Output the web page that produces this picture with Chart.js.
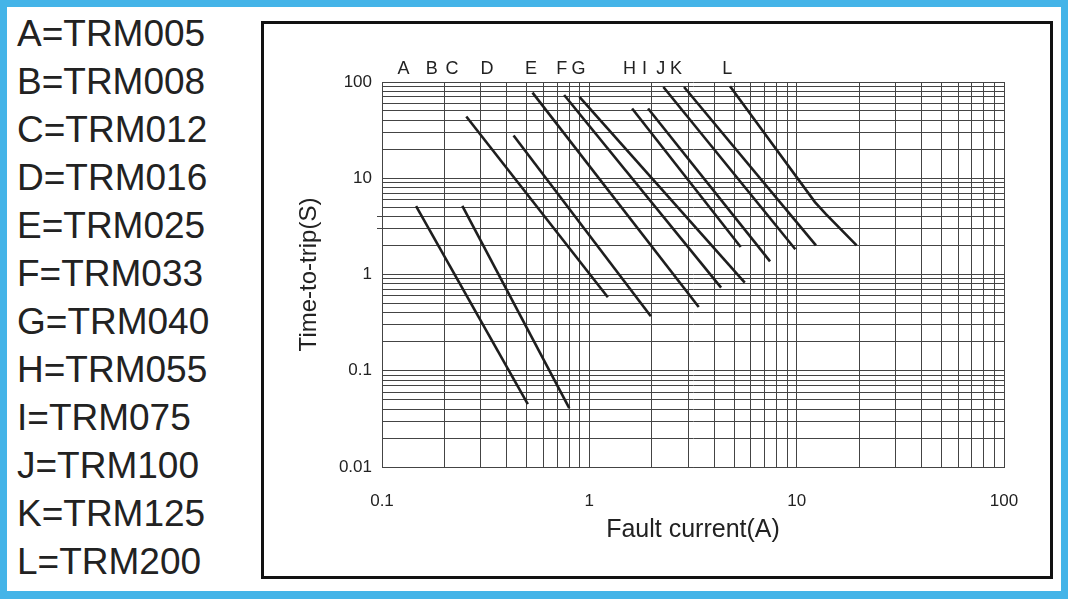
<!DOCTYPE html>
<html>
<head>
<meta charset="utf-8">
<script src="https://cdn.jsdelivr.net/npm/chart.js@4"></script>
<style>
  html, body { margin: 0; padding: 0; }
  body { width: 1068px; height: 599px; background: #44b4e8; position: relative; overflow: hidden; font-family: "Liberation Sans", Arial, sans-serif; }
  .pagina { position: absolute; left: 7px; top: 7px; width: 1054px; height: 584px; background: #fff; }
  .legenda { position: absolute; left: 17px; top: 0; }
  .legenda div { position: absolute; left: 0; font-size: 37px; line-height: 37px; color: #222; white-space: nowrap; }
  .caixa { position: absolute; left: 261px; top: 21px; width: 792px; height: 558px; border: 3px solid #111; box-sizing: border-box; background: #fff; }
  .grafico { position: absolute; left: 0; top: 0; width: 786px; height: 552px; }
</style>
</head>
<body>
<div class="pagina"></div>
<div class="legenda" id="legenda"></div>
<div class="caixa">
  <div class="grafico"><canvas id="graficoTrip"></canvas></div>
</div>

<script>
// ---------------- DADOS ----------------
const nomesCurvas = ['A', 'B', 'C', 'D', 'E', 'F', 'G', 'H', 'I', 'J', 'K', 'L'];
const textoLegenda = ['A=TRM005', 'B=TRM008', 'C=TRM012', 'D=TRM016', 'E=TRM025', 'F=TRM033',
                      'G=TRM040', 'H=TRM055', 'I=TRM075', 'J=TRM100', 'K=TRM125', 'L=TRM200'];

// posicao (em A) das letras acima do grafico
const posLetras = [0.127, 0.174, 0.2175, 0.321, 0.5225, 0.737, 0.886, 1.561, 1.843, 2.213, 2.62, 4.63];

// curvas corrente (A) x tempo (s)
const curvaA = [[0.146, 5.13], [0.505, 0.045]];
const curvaB = [[0.244, 5.17], [0.80, 0.041]];
const curvaC = [[0.255, 43.8], [1.228, 0.58]];
const curvaD = [[0.431, 27.8], [1.98, 0.368]];
const curvaE = [[0.532, 77.6], [3.37, 0.46]];
const curvaF = [[0.756, 73.3], [4.32, 0.73]];
const curvaG = [[0.896, 69.9], [5.62, 0.822]];
const curvaH = [[1.608, 53.0], [5.37, 1.93]];
const curvaI = [[1.92, 53.0], [7.44, 1.37]];
const curvaJ = [[2.276, 88.7], [9.85, 1.83]];
const curvaK = [[2.863, 88.7], [12.39, 2.01]];
const curvaL = [[4.77, 90.2], [12.25, 5.65], [13.84, 4.24], [19.46, 2.01]];
const curvas = [curvaA, curvaB, curvaC, curvaD, curvaE, curvaF, curvaG, curvaH, curvaI, curvaJ, curvaK, curvaL];

// rotulos dos eixos
const rotulosX = ['0.1', '1', '10', '100'];
const rotulosY = ['0.01', '0.1', '1', '10', '100'];
const decadasX = [0.1, 1, 10];
const decadasY = [0.01, 0.1, 1, 10];

// ---------------- LEGENDA ----------------
const legenda = document.getElementById('legenda');
textoLegenda.forEach((t, i) => {
  const d = document.createElement('div');
  d.textContent = t;
  d.style.top = (15 + i * 48) + 'px';
  legenda.appendChild(d);
});

// linhas de grade 1..9 em cada decada
function montarGrade(decadas) {
  const lista = [];
  decadas.forEach(d => {
    for (let k = 1; k <= 9; k++) lista.push(+(d * k).toPrecision(3));
  });
  lista.push(decadas[decadas.length - 1] * 10);
  return lista;
}
const gradeX = montarGrade(decadasX);
const gradeY = montarGrade(decadasY);

function rotulo(valor, rotulos) {
  const achado = rotulos.find(r => Math.abs(Number(r) - valor) < 1e-9);
  return achado || '';
}

const corGrade = '#444';
const fonte = '"Liberation Sans", Arial, sans-serif';

// plugin das letras em cima
const pluginLetras = {
  id: 'letras',
  afterDraw(chart) {
    const c = chart.ctx;
    const x = chart.scales.x;
    c.save();
    c.font = '18px ' + fonte;
    c.fillStyle = '#222';
    c.textAlign = 'center';
    c.textBaseline = 'middle';
    nomesCurvas.forEach((n, i) => {
      c.fillText(n, x.getPixelForValue(posLetras[i]), chart.chartArea.top - 13);
    });
    c.restore();
  }
};

// ---------------- GRAFICO ----------------
const ctx = document.getElementById('graficoTrip').getContext('2d');
const grafico = new Chart(ctx, {
  type: 'scatter',
  data: {
    datasets: curvas.map((pts, i) => ({
      label: nomesCurvas[i],
      data: pts.map(p => ({ x: p[0], y: p[1] })),
      showLine: true,
      borderColor: '#1e1e1e',
      borderWidth: 2.6,
      pointRadius: 0,
      tension: 0
    }))
  },
  options: {
    responsive: true,
    maintainAspectRatio: false,
    animation: false,
    layout: { padding: { top: 58, right: 46, left: 0, bottom: 0 } },
    scales: {
      x: {
        type: 'logarithmic',
        min: 0.1,
        max: 100,
        afterBuildTicks: s => { s.ticks = gradeX.map(v => ({ value: v })); },
        afterFit: s => { s.height = 109; },
        grid: { color: corGrade, lineWidth: 1, drawTicks: false },
        border: { color: corGrade },
        ticks: {
          autoSkip: false,
          maxRotation: 0,
          padding: 24,
          color: '#222',
          font: { size: 17, family: fonte },
          callback: v => rotulo(v, rotulosX)
        },
        title: {
          display: true,
          text: 'Fault current(A)',
          color: '#222',
          font: { size: 25, family: fonte },
          padding: { top: 0, bottom: 31 }
        }
      },
      y: {
        type: 'logarithmic',
        min: 0.01,
        max: 100,
        afterBuildTicks: s => { s.ticks = gradeY.map(v => ({ value: v })); },
        afterFit: s => { s.width = 118; },
        grid: {
          color: corGrade,
          lineWidth: 1,
          drawTicks: true,
          tickLength: 5,
          tickColor: c => (c.tick && (c.tick.value === 3 || c.tick.value === 4)) ? corGrade : 'rgba(0,0,0,0)'
        },
        border: { color: corGrade },
        ticks: {
          autoSkip: false,
          padding: 5,
          color: '#222',
          font: { size: 17, family: fonte },
          callback: v => rotulo(v, rotulosY)
        },
        title: {
          display: true,
          text: 'Time-to-trip(S)',
          color: '#222',
          font: { size: 24, family: fonte },
          padding: { top: 31, bottom: 0 }
        }
      }
    },
    plugins: {
      legend: { display: false },
      tooltip: { enabled: false }
    }
  },
  plugins: [pluginLetras]
});
</script>
</body>
</html>
